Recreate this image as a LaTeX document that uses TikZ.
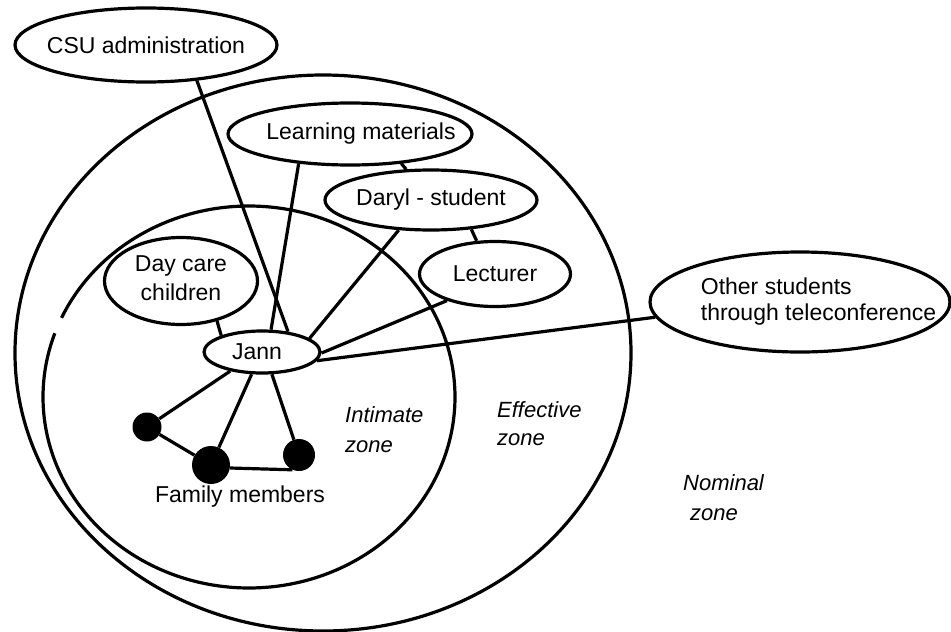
\documentclass[tikz,border=0pt]{standalone}
\usepackage{fontspec}
\setmainfont{Liberation Sans}
\usetikzlibrary{shapes.geometric}
\newcommand{\zw}[1]{\makebox[0pt]{#1}}
\begin{document}
\begin{tikzpicture}[x=1pt,y=-1pt,
  every node/.style={font=\fontsize{23}{26}\selectfont},
  oval/.style={ellipse, draw, line width=3.2pt, inner sep=0pt},
  link/.style={line width=3.2pt},
  zoneline/.style={line width=3.2pt},
  dot/.style={circle, fill=black, inner sep=0pt},
  zonelabel/.style={anchor=west, align=left, inner sep=0pt}]
\useasboundingbox (0,0) rectangle (951,632);
% zones
\draw[zoneline] (323,353) ellipse [x radius=308, y radius=278];
\draw[zoneline] plot[domain=160.5:515.5, samples=180, smooth] ({249+206*cos(\x)},{397-191*sin(\x)});
% nodes
\node[oval, minimum width=262, minimum height=74] (csu) at (146,45) {\zw{CSU administration}};
\node[oval, minimum width=244, minimum height=62] (lm) at (350,134) {\zw{\hspace{22pt}Learning materials}};
\node[oval, minimum width=212, minimum height=60] (daryl) at (431,200) {\zw{Daryl - student}};
\node[oval, minimum width=151, minimum height=65] (lect) at (495,274) {\zw{Lecturer}};
\node[oval, minimum width=153, minimum height=87] (day) at (181,281) {\zw{\begin{tabular}{@{}c@{}}Day care\\[3pt]children\end{tabular}}};
\node[oval, minimum width=116, minimum height=42] (jann) at (262,352) {\zw{Jann\hspace{10pt}}};
\node[oval, minimum width=300, minimum height=100] (other) at (800,302) {\zw{\hspace{37pt}\begin{tabular}{@{}l@{}}Other students\\through teleconference\end{tabular}}};
\node[dot, minimum size=29] (f1) at (147,427) {};
\node[dot, minimum size=38] (f2) at (211,465) {};
\node[dot, minimum size=32] (f3) at (299,455) {};
\node (fam) at (240,497) {Family members};
% zone labels
\node[zonelabel, font=\fontsize{22}{30}\selectfont\itshape] (iz) at (345,430) {Intimate\\zone};
\node[zonelabel, font=\fontsize{22}{28}\selectfont\itshape] (ez) at (497,424) {Effective\\zone};
\node[zonelabel, font=\fontsize{22}{30}\selectfont\itshape] (nz) at (683,498) {Nominal\\\hspace*{7pt}zone};
% connectors
\draw[link] (csu.-35.5) -- (jann.38.7);
\draw[link] (lm.-150.9) -- (jann.68.2);
\draw[link] (lm.-30.3) -- (daryl.129.6);
\draw[link] (daryl.-137.7) -- (jann.16.9);
\draw[link] (daryl.-36.6) -- (lect.119.5);
\draw[link] (lect.-151.7) -- (jann.-1);
\draw[link] (other.-174.3) -- (jann.-9.8);
\draw[link] (day.-48.6) -- (jann.158.2);
\draw[link] (jann.-149.5) -- (f1);
\draw[link] (jann.-115.6) -- (f2);
\draw[link] (jann.-66.3) -- (f3);
\draw[link] (f1) -- (f2);
\draw[link] (f2.-9) -- (f3.-114.8);
\end{tikzpicture}
\end{document}
